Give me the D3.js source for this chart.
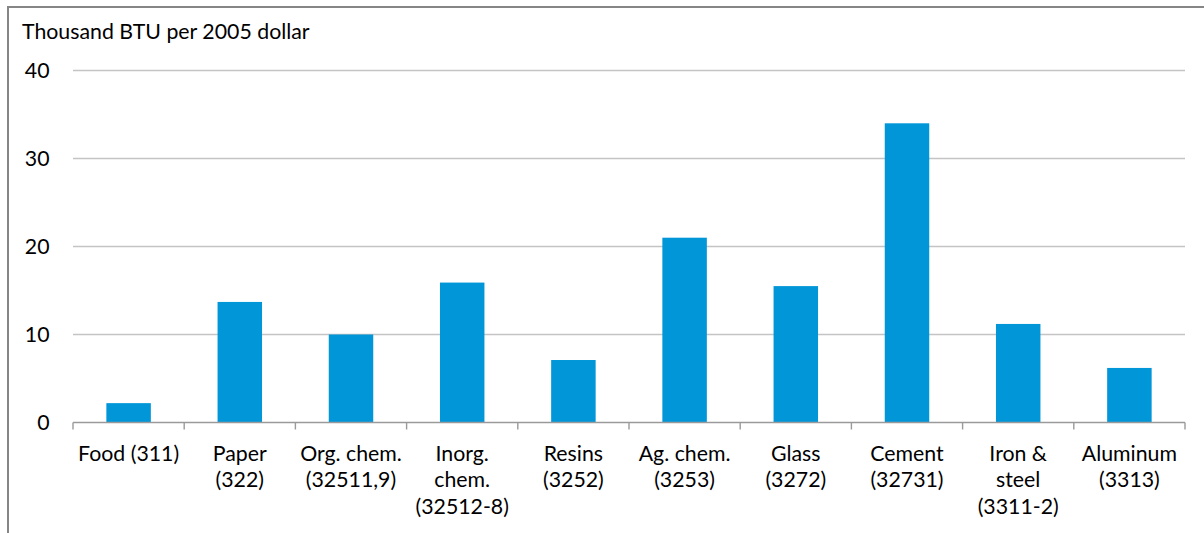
<!DOCTYPE html>
<html>
<head>
<meta charset="utf-8">
<script src="https://cdn.jsdelivr.net/npm/d3@7"></script>
<style>
  html, body { margin: 0; padding: 0; background: #fff; }
  svg { display: block; }
  text { font-family: Lato, "Open Sans", sans-serif; fill: #000; }
</style>
</head>
<body>
<svg id="chart" width="1204" height="533"></svg>
<script>
const categories = [
  ["Food (311)"],
  ["Paper", "(322)"],
  ["Org. chem.", "(32511,9)"],
  ["Inorg.", "chem.", "(32512-8)"],
  ["Resins", "(3252)"],
  ["Ag. chem.", "(3253)"],
  ["Glass", "(3272)"],
  ["Cement", "(32731)"],
  ["Iron &", "steel", "(3311-2)"],
  ["Aluminum", "(3313)"]
];
const values = [2.2, 13.7, 10.0, 15.9, 7.1, 21.0, 15.5, 34.0, 11.2, 6.2];
const yTicks = [0, 10, 20, 30, 40];
const yTitle = "Thousand BTU per 2005 dollar";

const svg = d3.select("#chart");
const fontSize = 21.3;

// outer frame
svg.append("rect")
  .attr("x", 8).attr("y", 7)
  .attr("width", 1300).attr("height", 600)
  .attr("fill", "none").attr("stroke", "#868686").attr("stroke-width", 2);

const x0 = 73, x1 = 1185, yTop = 70.5, yBot = 422.5;
const keys = categories.map((c, i) => i);
const x = d3.scaleBand().domain(keys).range([x0, x1]).paddingInner(0.6).paddingOuter(0.3);
const y = d3.scaleLinear().domain([0, 40]).range([yBot, yTop]);

// gridlines
svg.append("g").selectAll("line").data(yTicks.filter(t => t > 0)).join("line")
  .attr("x1", x0).attr("x2", x1)
  .attr("y1", d => y(d)).attr("y2", d => y(d))
  .attr("stroke", "#c4c4c4").attr("stroke-width", 1.4);

// y axis labels
const yAxis = d3.axisLeft(y).tickValues(yTicks).tickSize(0).tickPadding(0);
const gy = svg.append("g").attr("transform", "translate(49.5,0)").call(yAxis);
gy.select(".domain").remove();
gy.selectAll("text").attr("font-family", "Lato, 'Open Sans', sans-serif")
  .attr("font-size", fontSize).attr("fill", "#000").attr("dy", "0.34em");

// bars
svg.append("g").selectAll("rect").data(values).join("rect")
  .attr("x", (d, i) => x(i))
  .attr("width", x.bandwidth())
  .attr("y", d => y(d))
  .attr("height", d => y(0) - y(d))
  .attr("fill", "#0096d8");

// x axis line and ticks at category boundaries
const boundaries = d3.range(categories.length + 1).map(i => x0 + i * (x1 - x0) / categories.length);
const gx = svg.append("g");
gx.append("line").attr("x1", x0).attr("x2", x1).attr("y1", yBot).attr("y2", yBot)
  .attr("stroke", "#9a9a9a").attr("stroke-width", 1.4);
gx.selectAll("line.tick").data(boundaries).join("line").attr("class", "tick")
  .attr("x1", d => d).attr("x2", d => d)
  .attr("y1", yBot).attr("y2", yBot + 7)
  .attr("stroke", "#9a9a9a").attr("stroke-width", 1.4);

// category labels
const lab = svg.append("g").selectAll("text").data(categories).join("text")
  .attr("text-anchor", "middle")
  .attr("font-size", fontSize)
  .attr("x", (d, i) => x(i) + x.bandwidth() / 2)
  .attr("y", 461);
lab.selectAll("tspan").data(d => d).join("tspan")
  .attr("x", function() { return d3.select(this.parentNode).attr("x"); })
  .attr("dy", (d, j) => j === 0 ? 0 : 26.3)
  .text(d => d);

// y title
svg.append("text").attr("x", 22).attr("y", 39)
  .attr("font-size", fontSize).text(yTitle);
</script>
</body>
</html>
